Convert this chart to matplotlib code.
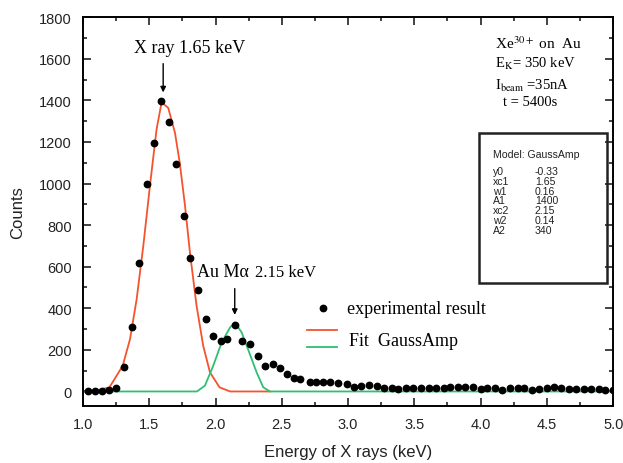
import matplotlib
matplotlib.use("Agg")
import matplotlib.pyplot as plt
from matplotlib.patches import Rectangle
from matplotlib.ticker import MultipleLocator

plt.rcParams['font.family'] = ['Liberation Sans', 'DejaVu Sans']
plt.rcParams['mathtext.fontset'] = 'stix'

# experimental points (keV, counts)
exp_x = [0.98, 1.04, 1.09, 1.14, 1.20, 1.25, 1.31, 1.37, 1.42, 1.48, 1.535, 1.59,
         1.65, 1.70, 1.76, 1.81, 1.87, 1.925, 1.98, 2.04, 2.09, 2.145, 2.20, 2.26,
         2.32, 2.37, 2.43, 2.485, 2.54, 2.59, 2.64, 2.71, 2.76, 2.81, 2.86, 2.925,
         2.99, 3.045, 3.10, 3.16, 3.215, 3.27, 3.33, 3.38, 3.44, 3.49, 3.55, 3.61,
         3.66, 3.72, 3.77, 3.83, 3.88, 3.94, 4.00, 4.05, 4.11, 4.16, 4.22, 4.28,
         4.33, 4.39, 4.44, 4.50, 4.55, 4.61, 4.67, 4.72, 4.78, 4.83, 4.89, 4.94, 5.00]
exp_y = [0, 0, 0, 2, 5, 18, 117, 310, 618, 998, 1195, 1398,
         1294, 1094, 843, 643, 486, 347, 265, 243, 250, 322, 243, 230,
         170, 121, 130, 114, 84, 65, 60, 47, 47, 44, 44, 41,
         36, 23, 28, 31, 25, 17, 17, 14, 17, 17, 17, 17,
         15, 17, 20, 23, 23, 20, 12, 15, 17, 9, 15, 15,
         17, 9, 12, 15, 20, 15, 12, 12, 12, 12, 12, 9, 8]

# fitted curves as drawn
red_x = [1.0, 1.10, 1.20, 1.30, 1.355, 1.405, 1.455, 1.505, 1.555, 1.593, 1.643,
         1.694, 1.73, 1.77, 1.807, 1.857, 1.907, 1.958, 2.03, 2.11, 2.41]
red_y = [0, 4, 20, 124, 252, 444, 700, 988, 1260, 1390, 1364,
         1244, 1100, 892, 668, 412, 220, 92, 20, 0, 0]
green_x = [1.0, 1.86, 1.92, 1.983, 2.046, 2.11, 2.146, 2.197, 2.254, 2.31, 2.36, 2.41, 5.0]
green_y = [0, 0, 28, 124, 236, 308, 332, 284, 188, 92, 20, 0, 0]

param_names = ["y0", "xc1", "w1", "A1", "xc2", "w2", "A2"]
param_values = ["-0.33", "1.65", "0.16", "1400", "2.15", "0.14", "340"]

red = '#f5532d'
green = '#2fbf73'
txt = '#222222'

fig = plt.figure(figsize=(6.23, 4.64), dpi=100)
ax = fig.add_axes([0.1332, 0.1228, 0.851, 0.838])

ax.plot(red_x, red_y, color=red, lw=1.3)
ax.plot(green_x, green_y, color=green, lw=1.3)
ax.plot(exp_x, exp_y, 'o', color='black', ms=4.6, ls='none')

ax.set_xlim(1.0, 5.0)
ax.set_ylim(-70, 1800)
ax.xaxis.set_major_locator(MultipleLocator(0.5))
ax.xaxis.set_minor_locator(MultipleLocator(0.25))
ax.yaxis.set_major_locator(MultipleLocator(200))
ax.yaxis.set_minor_locator(MultipleLocator(100))
ax.xaxis.set_major_formatter(matplotlib.ticker.FormatStrFormatter('%.1f'))
ax.tick_params(which='both', direction='in', top=True, right=True, width=1.2,
               labelsize=10.5, colors=txt)
ax.tick_params(which='major', length=6, pad=8)
ax.tick_params(which='minor', length=3)
for s in ax.spines.values():
    s.set_linewidth(1.4)

ax.set_xlabel("Energy of X rays (keV)", fontsize=12, color=txt, labelpad=9)
ax.set_ylabel("Counts", fontsize=12, color=txt, labelpad=10)

serif = 'Liberation Serif'
ax.text(1.807, 1654, "X ray 1.65 keV", family=serif, fontsize=13, ha='center', va='center')
ax.annotate("", xy=(1.605, 1425), xytext=(1.605, 1590),
            arrowprops=dict(arrowstyle='-|>', color='black', lw=1, mutation_scale=8))
ax.text(1.86, 578, "Au M\u03b1", family=serif, fontsize=13, ha='left', va='center')
ax.text(2.30, 575, "2.15 keV", family=serif, fontsize=12, ha='left', va='center')
ax.annotate("", xy=(2.145, 355), xytext=(2.145, 508),
            arrowprops=dict(arrowstyle='-|>', color='black', lw=1, mutation_scale=8))

# legend drawn by hand
ax.plot([2.81], [401], 'o', color='black', ms=4.6)
ax.text(2.99, 401, "experimental result", family=serif, fontsize=13, va='center')
ax.plot([2.69, 2.915], [295, 295], color=red, lw=1.3)
ax.plot([2.69, 2.915], [214, 214], color=green, lw=1.3)
ax.text(3.01, 245, "Fit  GaussAmp", family=serif, fontsize=13, va='center')

# run conditions
ax.text(4.107, 1678, r"Xe$^{30+}$ on  Au", family=serif, fontsize=11, va='center')
ax.text(4.107, 1582, r"E$_{\rm K}$= 350 keV", family=serif, fontsize=10.5, va='center')
ax.text(4.107, 1476, r"I$_{\rm beam}$ =35nA", family=serif, fontsize=10.5, va='center')
ax.text(4.17, 1394, "t = 5400s", family=serif, fontsize=10.5, va='center')

# parameter box
ax.add_patch(Rectangle((3.985, 520), 0.97, 725, fill=False, lw=1.8, ec=txt))
ax.text(4.09, 1140, "Model: GaussAmp", fontsize=7.6, va='center', color=txt)
for i, (n, v) in enumerate(zip(param_names, param_values)):
    yy = 1060 - i * 47
    ax.text(4.09, yy, n, fontsize=7.6, va='center', color=txt)
    ax.text(4.41, yy, v, fontsize=7.6, va='center', color=txt)

fig.savefig("out.png", dpi=100)
